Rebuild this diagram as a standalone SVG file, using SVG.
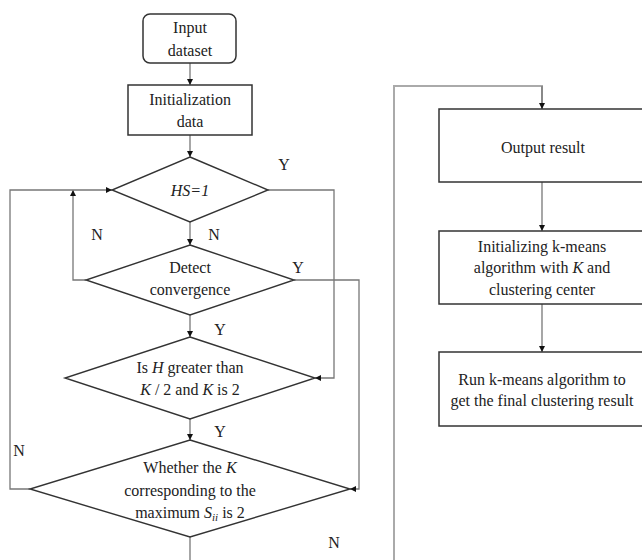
<svg xmlns="http://www.w3.org/2000/svg" width="642" height="560" viewBox="0 0 642 560">
<style>
.box{fill:#fff;stroke:#333;stroke-width:1.5}
.dia{fill:#fff;stroke:#333;stroke-width:1.4}
.con{fill:none;stroke:#777;stroke-width:1.3}
text{font-family:'Liberation Serif','Times New Roman',Times,serif;font-size:16px;fill:#222;text-anchor:middle}
</style>
<defs>
<marker id="ah" markerUnits="userSpaceOnUse" markerWidth="7" markerHeight="7" refX="6" refY="3" orient="auto">
<path d="M0,0 L6,3 L0,6 z" fill="#111"/>
</marker>
</defs>
<rect width="642" height="560" fill="#fff"/>
<g id="connectors" font-family="Liberation Serif, serif">
<path class="con" d="M190,63 V85" marker-end="url(#ah)"/>
<path class="con" d="M190,135 V157" marker-end="url(#ah)"/>
<path class="con" d="M190,222 V245" marker-end="url(#ah)"/>
<path class="con" d="M190,315 V337" marker-end="url(#ah)"/>
<path class="con" d="M190,419 V440" marker-end="url(#ah)"/>
<path class="con" d="M190,537 V560"/>
<path class="con" d="M86,280 H73 V190" marker-end="url(#ah)"/>
<path class="con" d="M30,489 H10 V190 H112" marker-end="url(#ah)"/>
<path class="con" d="M268,190 H334 V378 H315" marker-end="url(#ah)"/>
<path class="con" d="M294,280 H359 V489 H350" marker-end="url(#ah)"/>
<path fill="none" stroke="#aaa" stroke-width="2" d="M394,560 V86 H542 V109"/>
<path class="con" d="M542,86 V109" marker-end="url(#ah)"/>
<path class="con" d="M542,182 V231" marker-end="url(#ah)"/>
<path class="con" d="M542,304 V352" marker-end="url(#ah)"/>
<text x="284" y="170">Y</text>
<text x="298" y="273">Y</text>
<text x="97" y="240">N</text>
<text x="214" y="240">N</text>
<text x="220" y="335">Y</text>
<text x="220" y="437">Y</text>
<text x="19" y="456">N</text>
<text x="334" y="548">N</text>
</g>
<g id="input">
<rect class="box" x="143" y="14" width="93" height="49" rx="7"/>
<text x="190" y="33">Input</text>
<text x="190" y="56">dataset</text>
</g>
<g id="init">
<rect class="box" x="128" y="85" width="124" height="50"/>
<text x="190" y="105">Initialization</text>
<text x="190" y="127">data</text>
</g>
<g id="hs">
<polygon class="dia" points="190,157 268,190 190,222 112,190"/>
<text x="190" y="196" font-style="italic">HS=1</text>
</g>
<g id="detect">
<polygon class="dia" points="190,245 294,280 190,315 86,280"/>
<text x="190" y="273">Detect</text>
<text x="190" y="295">convergence</text>
</g>
<g id="ish">
<polygon class="dia" points="190,337 315,378 190,419 65,378"/>
<text x="190" y="373">Is <tspan font-style="italic">H</tspan> greater than</text>
<text x="190" y="395"><tspan font-style="italic">K</tspan> / 2 and <tspan font-style="italic">K</tspan> is 2</text>
</g>
<g id="whether">
<polygon class="dia" points="190,440 350,489 190,537 30,489"/>
<text x="190" y="473">Whether the <tspan font-style="italic">K</tspan></text>
<text x="190" y="496">corresponding to the</text>
<text x="190" y="518">maximum <tspan font-style="italic">S</tspan><tspan font-style="italic" font-size="11" dy="3">ii</tspan><tspan dy="-3"> is 2</tspan></text>
</g>
<g id="output">
<rect class="box" x="439" y="109" width="207" height="73"/>
<text x="543" y="153">Output result</text>
</g>
<g id="initkm">
<rect class="box" x="439" y="231" width="207" height="73"/>
<text x="542" y="252">Initializing k-means</text>
<text x="542" y="273">algorithm with <tspan font-style="italic">K</tspan> and</text>
<text x="542" y="295">clustering center</text>
</g>
<g id="run">
<rect class="box" x="439" y="352" width="207" height="74"/>
<text x="542" y="385">Run k-means algorithm to</text>
<text x="542" y="406">get the final clustering result</text>
</g>
</svg>
